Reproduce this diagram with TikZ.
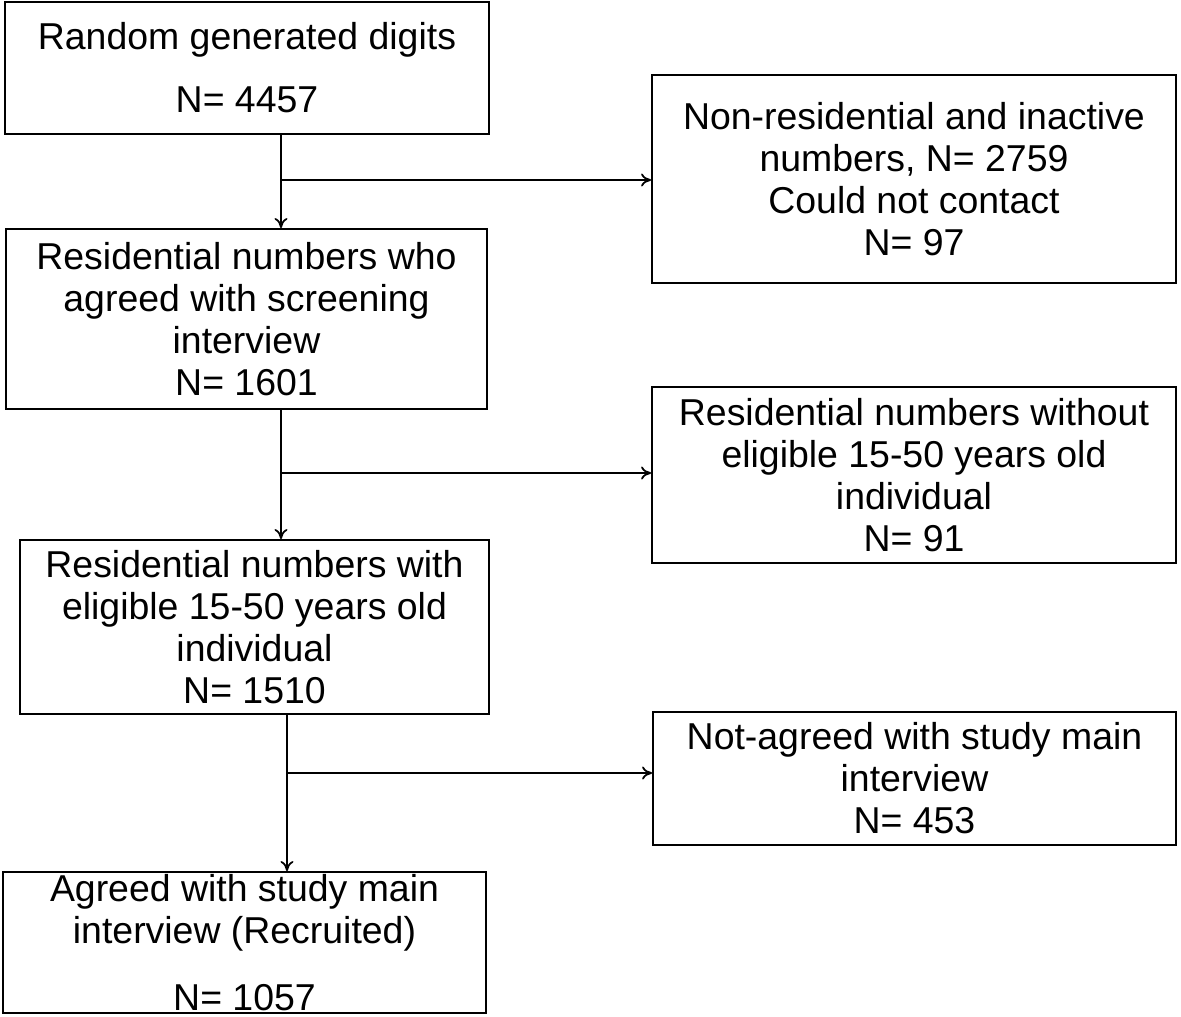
\documentclass[tikz,border=0pt]{standalone}
\usepackage{fontspec}
\setmainfont{Liberation Sans}
\usepackage{tikz}
\usetikzlibrary{arrows.meta, positioning, calc}

\begin{document}
\begin{tikzpicture}[x=0.02cm, y=-0.02cm,
  box/.style={draw, line width=1.1pt, align=center, inner sep=0pt,
    font=\fontsize{21.3pt}{23.9pt}\selectfont},
  arr/.style={line width=1pt, -{To[length=0.2cm, width=0.26cm]}}]
\useasboundingbox (0,0) rectangle (1181,1017);
% Main flow
\node[box, minimum width=9.68cm, minimum height=2.64cm] (digits) at (247,68)
  {Random generated digits\\[12pt]N= 4457};
\node[box, minimum width=9.62cm, minimum height=3.6cm] (screen) at (246.5,319)
  {Residential numbers who\\agreed with screening\\interview\\N= 1601};
\node[box, minimum width=9.38cm, minimum height=3.48cm] (eligible) at (254.5,627)
  {Residential numbers with\\eligible 15-50 years old\\individual\\N= 1510};
\node[box, minimum width=9.66cm, minimum height=2.82cm] (recruit) at (244.5,942.5)
  {Agreed with study main\\interview (Recruited)\\[14pt]N= 1057};
% Exclusions
\node[box, minimum width=10.48cm, minimum height=4.16cm] (inactive) at (914,179)
  {Non-residential and inactive\\numbers, N= 2759\\Could not contact\\N= 97};
\node[box, minimum width=10.48cm, minimum height=3.52cm] (noelig) at (914,475)
  {Residential numbers without\\eligible 15-50 years old\\individual\\N= 91};
\node[box, minimum width=10.46cm, minimum height=2.66cm] (refused) at (914.5,778.5)
  {Not-agreed with study main\\interview\\N= 453};
% Connectors
\coordinate (j1) at (281,180);
\coordinate (j2) at (281,473);
\coordinate (j3) at (287,773);
\draw[arr] (digits.south -| j1) -- (screen.north -| j1);
\draw[arr] (j1) -- (j1 -| inactive.west);
\draw[arr] (screen.south -| j2) -- (eligible.north -| j2);
\draw[arr] (j2) -- (j2 -| noelig.west);
\draw[arr] (eligible.south -| j3) -- (recruit.north -| j3);
\draw[arr] (j3) -- (j3 -| refused.west);
\end{tikzpicture}
\end{document}
